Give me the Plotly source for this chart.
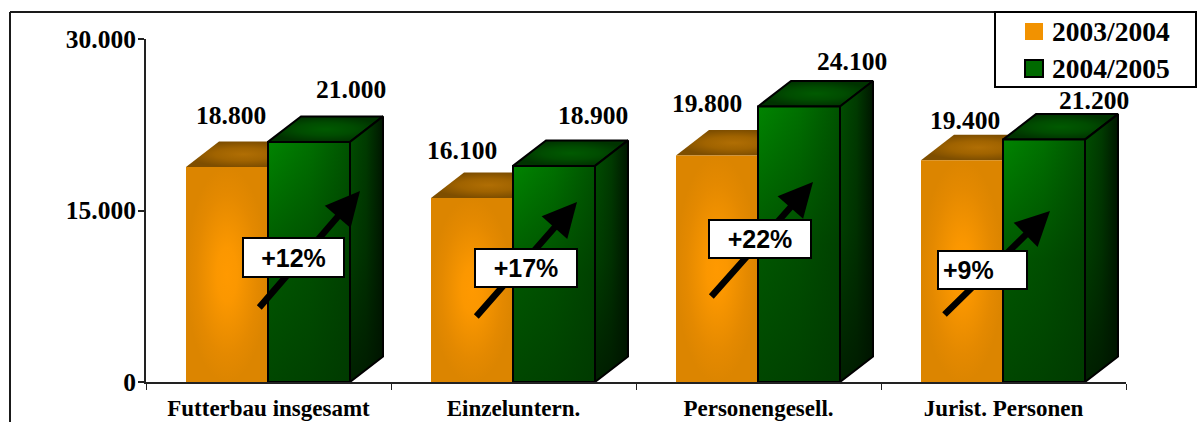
import plotly.graph_objects as go

categories = ["Futterbau insgesamt", "Einzeluntern.", "Personengesell.", "Jurist. Personen"]
series_names = ["2003/2004", "2004/2005"]
values_2003 = [18800, 16100, 19800, 19400]
values_2004 = [21000, 18900, 24100, 21200]
value_labels_2003 = ["18.800", "16.100", "19.800", "19.400"]
value_labels_2004 = ["21.000", "18.900", "24.100", "21.200"]
changes = ["+12%", "+17%", "+22%", "+9%"]
y_ticks = [0, 15000, 30000]
y_tick_labels = ["0", "15.000", "30.000"]

W, H = 1197, 422
L, R, T, B = 146, 1126, 39, 382
SERIF = "Liberation Serif"
SANS = "Liberation Sans"


def dx(p):
    return (p - L) / (R - L) * 4


def dy(p):
    return (B - p) / (B - T) * 30000


def fx(p):
    return (p - L) / (R - L)


def fy(p):
    return (B - p) / (B - T)


BAR = 82 / 245
DX = 33 / 245
DY = 25.5 / 343 * 30000

fig = go.Figure()


def poly(xs, ys, grad, line=None):
    fig.add_trace(go.Scatter(
        x=xs + xs[:1], y=ys + ys[:1], mode="lines", fill="toself",
        fillgradient=grad,
        line=dict(color=line or "rgba(0,0,0,0)", width=2 if line else 0),
        hoverinfo="skip", showlegend=False, cliponaxis=False,
    ))


def g(kind, *stops):
    n = len(stops) - 1
    return dict(type=kind, colorscale=[[i / n, c] for i, c in enumerate(stops)])


SHADE_FRONT = g("vertical", "rgba(0,50,0,0.75)", "rgba(0,50,0,0.55)", "rgba(0,50,0,0.0)")
SHADE_SIDE = g("vertical", "rgba(0,20,0,0.8)", "rgba(0,20,0,0.3)", "rgba(0,20,0,0.0)")

for i in range(4):
    x0 = i + 40 / 245
    x1 = x0 + BAR
    x2 = x1 + BAR
    a = values_2003[i]
    b = values_2004[i]
    # orange column
    poly([x0, x0 + DX, x1 + DX, x1], [a, a + DY, a + DY, a],
         g("radial", "#b06e04", "#a06300", "#7e4e00"))
    poly([x0, x1, x1, x0], [0, 0, a, a],
         g("radial", "#ff9900", "#fb9700", "#ef9000", "#e48900", "#dc8500"))
    # green column
    poly([x1, x1 + DX, x2 + DX, x2], [b, b + DY, b + DY, b],
         g("radial", "#005a00", "#004c00", "#003300"), "#000000")
    poly([x2, x2 + DX, x2 + DX, x2], [0, DY, b + DY, b],
         g("horizontal", "#005000", "#003c00", "#001600"))
    poly([x2, x2 + DX, x2 + DX, x2], [0, DY, b + DY, b], SHADE_SIDE, "#000000")
    poly([x1, x2, x2, x1], [0, 0, b, b],
         g("horizontal", "#008400", "#007000", "#005200"))
    poly([x1, x2, x2, x1], [0, 0, b, b], SHADE_FRONT, "#000000")

annotations = []
label_off_2003 = [(4, 52), (-10, 47), (-10, 52), (3, 40)]
label_off_2004 = [(42, 52), (39, 50), (53, 45), (50, 39)]
for i in range(4):
    x0 = i + 40 / 245
    for labels, vals, offs, cx in ((value_labels_2003, values_2003, label_off_2003, x0 + BAR / 2),
                                   (value_labels_2004, values_2004, label_off_2004, x0 + 1.5 * BAR)):
        annotations.append(dict(
            x=cx, y=vals[i], xref="x", yref="y", text=f"<b>{labels[i]}</b>",
            xanchor="center", yanchor="middle",
            showarrow=False, xshift=offs[i][0], yshift=offs[i][1],
            font=dict(family=SERIF, size=25.5, color="#000000"),
        ))

arrows = [((258, 309), (360, 191)), ((475, 318), (577, 202)),
          ((710, 298), (813, 182)), ((943, 316), (1050, 211))]
for tail, tip in arrows:
    annotations.append(dict(
        x=dx(tip[0]), y=dy(tip[1]), ax=dx(tail[0]), ay=dy(tail[1]),
        xref="x", yref="y", axref="x", ayref="y", text="", showarrow=True,
        arrowhead=2, arrowsize=1.05, arrowwidth=6.5, arrowcolor="#000000", standoff=0,
    ))

boxes = [(242, 344, 237, 277), (474, 577, 248, 287), (708, 811, 219, 258), (937, 1027, 250, 289)]
aligns = ["center", "center", "center", "left"]
for (l, r, t, b), txt, al in zip(boxes, changes, aligns):
    annotations.append(dict(
        x=fx((l + r) / 2), y=fy((t + b) / 2), xref="paper", yref="paper",
        xanchor="center", yanchor="middle",
        text=f"<b>{txt}</b>", showarrow=False, width=r - l - 11, height=b - t - 11,
        align=al, valign="middle", bgcolor="#ffffff", bordercolor="#000000",
        borderwidth=2, borderpad=4, font=dict(family=SANS, size=25, color="#000000"),
    ))

shapes = [
    dict(type="line", xref="paper", yref="paper", x0=fx(10), x1=fx(10), y0=fy(12), y1=fy(H + 5),
         line=dict(color="#1a1a1a", width=2)),
    dict(type="line", xref="paper", yref="paper", x0=fx(10), x1=fx(1000), y0=fy(12), y1=fy(12),
         line=dict(color="#1a1a1a", width=2)),
    dict(type="rect", xref="paper", yref="paper", x0=fx(995), x1=fx(1196), y0=fy(12), y1=fy(87),
         fillcolor="#ffffff", line=dict(color="#000000", width=2)),
    dict(type="rect", xref="paper", yref="paper", x0=fx(1025), x1=fx(1043), y0=fy(23), y1=fy(40),
         fillcolor="#f29200", line=dict(width=0)),
    dict(type="rect", xref="paper", yref="paper", x0=fx(1025), x1=fx(1043), y0=fy(60), y1=fy(77),
         fillcolor="#006a00", line=dict(color="#000000", width=2)),
]
for name, yc in zip(series_names, (32, 69)):
    annotations.append(dict(
        x=fx(1049.5), y=fy(yc), xref="paper", yref="paper", xanchor="left", yanchor="middle",
        text=f"<b>{name}</b>", showarrow=False,
        font=dict(family=SERIF, size=27.5, color="#000000"),
    ))

fig.update_layout(
    width=W, height=H, margin=dict(l=L, r=W - R, t=T, b=H - B, autoexpand=False),
    paper_bgcolor="#ffffff", plot_bgcolor="#ffffff", showlegend=False,
    annotations=annotations, shapes=shapes,
    xaxis=dict(
        range=[0, 4], tickmode="array", tickvals=[i + 0.5 for i in range(4)], ticktext=[f"<b>{c}</b>" for c in categories],
        ticks="", ticklen=0, showgrid=False, zeroline=False, showline=True, linecolor="#222222", linewidth=2,
        tickfont=dict(family=SERIF, size=23, color="#000000"), ticklabelstandoff=4,
        minor=dict(tickmode="array", tickvals=[0, 1, 2, 3, 4], ticks="outside", ticklen=6, tickwidth=1, tickcolor="#222222", showgrid=False),
    ),
    yaxis=dict(
        range=[0, 30000], tickmode="array", tickvals=y_ticks, ticktext=[f"<b>{t}</b>" for t in y_tick_labels],
        ticks="outside", ticklen=6, tickwidth=2, tickcolor="#222222", showgrid=False, zeroline=False,
        showline=True, linecolor="#222222", linewidth=2, ticklabelstandoff=-3,
        tickfont=dict(family=SERIF, size=25.5, color="#000000"),
    ),
)
fig.write_html(
    "out.html",
    config=dict(displayModeBar=False),
    post_script="document.body.style.margin='0';document.documentElement.style.overflow='hidden';",
)
